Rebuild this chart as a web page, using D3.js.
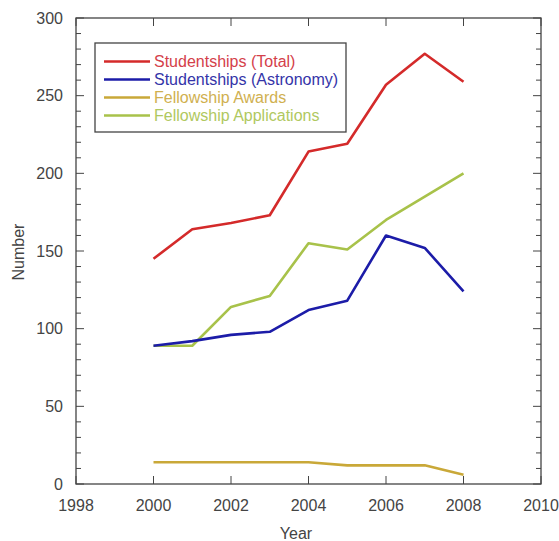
<!DOCTYPE html>
<html><head><meta charset="utf-8">
<script src="https://cdn.jsdelivr.net/npm/d3@7"></script>
<style>body{margin:0;background:#fff}svg{display:block;font-family:Arial,"Liberation Sans",sans-serif}</style>
</head><body><svg id="c" width="559" height="541"></svg>
<script>
const years = [2000,2001,2002,2003,2004,2005,2006,2007,2008];
const studentshipsTotal = [145,164,168,173,214,219,257,277,259];
const studentshipsAstronomy = [89,92,96,98,112,118,160,152,124];
const fellowshipAwards = [14,14,14,14,14,12,12,12,6];
const fellowshipApplications = [89,89,114,121,155,151,170,185,200];
const seriesNames = ["Studentships (Total)","Studentships (Astronomy)","Fellowship Awards","Fellowship Applications"];
const seriesColors = ["#d42a2a","#1c1ca8","#c9a838","#a8c24a"];
const textColors = ["#d4404a","#3434a8","#d0b050","#b0c860"];
const xTicks = [1998,2000,2002,2004,2006,2008,2010];
const yTicks = [0,50,100,150,200,250,300];

const svg = d3.select("#c");
const L=76,R=541,T=18,B=484;
const x = d3.scaleLinear().domain([1998,2010]).range([L,R]);
const y = d3.scaleLinear().domain([0,300]).range([B,T]);
const axisCol="#444";

const g = svg.append("g");
g.append("rect").attr("x",L).attr("y",T).attr("width",R-L).attr("height",B-T)
 .attr("fill","none").attr("stroke",axisCol).attr("stroke-width",1.3);

const yMinor = d3.range(0,301,10);
yMinor.forEach(v=>{
  const len = v%50===0?8:5;
  g.append("line").attr("x1",L).attr("x2",L+len).attr("y1",y(v)).attr("y2",y(v)).attr("stroke",axisCol);
  g.append("line").attr("x1",R).attr("x2",R-len).attr("y1",y(v)).attr("y2",y(v)).attr("stroke",axisCol);
});
xTicks.forEach(v=>{
  g.append("line").attr("x1",x(v)).attr("x2",x(v)).attr("y1",B).attr("y2",B-8).attr("stroke",axisCol);
  g.append("line").attr("x1",x(v)).attr("x2",x(v)).attr("y1",T).attr("y2",T+8).attr("stroke",axisCol);
});
g.selectAll(".yl").data(yTicks).enter().append("text")
 .attr("x",L-13).attr("y",d=>y(d)).attr("dy","0.36em").attr("text-anchor","end")
 .attr("font-size",16).attr("fill","#444").text(d=>d);
g.selectAll(".xl").data(xTicks).enter().append("text")
 .attr("x",d=>x(d)).attr("y",511).attr("text-anchor","middle")
 .attr("font-size",16).attr("fill","#444").text(d=>d);
g.append("text").attr("x",296).attr("y",539).attr("text-anchor","middle").attr("font-size",16).attr("fill","#444").text("Year");
g.append("text").attr("transform","translate(24,252) rotate(-90)").attr("text-anchor","middle").attr("font-size",16).attr("fill","#444").text("Number");

const data = [studentshipsTotal,studentshipsAstronomy,fellowshipAwards,fellowshipApplications];
const line = d3.line().x((d,i)=>x(years[i])).y(d=>y(d));
[2,3,1,0].forEach(k=>{
  g.append("path").datum(data[k]).attr("d",line).attr("fill","none")
   .attr("stroke",seriesColors[k]).attr("stroke-width",2.6).attr("stroke-linejoin","round");
});

const lg = g.append("g");
lg.append("rect").attr("x",95).attr("y",43).attr("width",251).attr("height",89)
 .attr("fill","#fff").attr("stroke","#444").attr("stroke-width",1.3);
seriesNames.forEach((n,i)=>{
  const yy = 61.5 + i*18;
  lg.append("line").attr("x1",104).attr("x2",150).attr("y1",yy).attr("y2",yy).attr("stroke",seriesColors[i]).attr("stroke-width",2.4);
  lg.append("text").attr("x",154).attr("y",yy).attr("dy","0.36em").attr("font-size",16).attr("fill",textColors[i]).text(n);
});
</script></body></html>
